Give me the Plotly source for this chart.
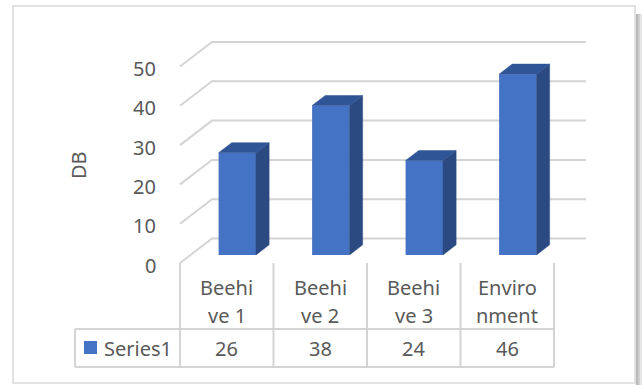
import plotly.graph_objects as go

# ==================================================
# 1. data
# ==================================================

categories = ["Beehive 1", "Beehive 2", "Beehive 3", "Environment"]
table_labels = [["Beehi", "ve 1"], ["Beehi", "ve 2"], ["Beehi", "ve 3"], ["Enviro", "nment"]]
values = [26, 38, 24, 46]
series_name = "Series1"
y_ticks = [0, 10, 20, 30, 40, 50]
y_title = "DB"

# ==================================================
# 2. geometry (pixel scale of the fake 3D box)
# ==================================================

W, H = 642, 385
X0_PX, PX_PER_CAT = 180, 93.5      # front-left floor corner, width of one category
Y0_PX, PX_PER_UNIT = 263, 3.93     # front floor level, pixels per DB unit

DX = 32 / PX_PER_CAT               # full depth in category units
DY = 24.5 / PX_PER_UNIT            # full depth in value units
D0, D1 = 0.33, 0.74                # bar depth (front / back fraction)
BAR_W = 0.4

FRONT = "#4472C4"
TOP = "#2F5597"
SIDE = "#2B4A82"
GRID = "#d4d4d4"
TXT = "#595959"
FONT = "Noto Sans"
FS = 20


def px_x(p):
    return (p - X0_PX) / PX_PER_CAT


def px_y(p):
    return (Y0_PX - p) / PX_PER_UNIT


n = len(categories)
fig = go.Figure()

# bar fronts
centers = [i + 0.5 + D0 * DX for i in range(n)]
fig.add_trace(go.Bar(x=centers, y=values, base=D0 * DY, width=BAR_W,
                     marker=dict(color=FRONT, line=dict(width=0)),
                     name=series_name))

# side and top faces
dd = (D1 - D0)
for c, v in zip(centers, values):
    l, r = c - BAR_W / 2, c + BAR_W / 2
    b, t = D0 * DY, v + D0 * DY
    fig.add_trace(go.Scatter(
        x=[r, r + dd * DX, r + dd * DX, r, r],
        y=[b, b + dd * DY, t + dd * DY, t, b],
        fill="toself", fillcolor=SIDE, mode="lines",
        line=dict(color=SIDE, width=0.5), hoverinfo="skip"))
    fig.add_trace(go.Scatter(
        x=[l, r, r + dd * DX, l + dd * DX, l],
        y=[t, t, t + dd * DY, t + dd * DY, t],
        fill="toself", fillcolor=TOP, mode="lines",
        line=dict(color=TOP, width=0.5), hoverinfo="skip"))

# gridlines on the left wall and back wall (behind the bars)
shapes = []
for t in y_ticks:
    path = f"M 0 {t} L {DX} {t + DY} L {n + DX} {t + DY}"
    shapes.append(dict(type="path", path=path, xref="x", yref="y", layer="below",
                       line=dict(color=GRID, width=2)))

# ==================================================
# 3. texts: ticks, axis title, data table
# ==================================================

ann = []
for t in y_ticks:
    ann.append(dict(x=0, y=t, text=str(t), showarrow=False, xanchor="right",
                    xshift=-22, yshift=-2, font=dict(size=FS, color=TXT, family=FONT)))

ann.append(dict(x=px_x(78), y=px_y(165), text=y_title, showarrow=False, textangle=-90,
                font=dict(size=FS, color=TXT, family=FONT)))

row1, row2 = px_y(329), px_y(367)
table_lines = []
for i in range(n + 1):
    table_lines.append(dict(type="line", x0=i, x1=i, y0=0, y1=row2))
table_lines.append(dict(type="line", x0=px_x(75), x1=n, y0=row1, y1=row1))
table_lines.append(dict(type="line", x0=px_x(75), x1=n, y0=row2, y1=row2))
table_lines.append(dict(type="line", x0=px_x(75), x1=px_x(75), y0=row1, y1=row2))
for s in table_lines:
    s.update(xref="x", yref="y", layer="below", line=dict(color=GRID, width=2))
shapes += table_lines

for i, (lab, v) in enumerate(zip(table_labels, values)):
    ann.append(dict(x=i + 0.5, y=px_y(287), text=lab[0], showarrow=False,
                    font=dict(size=FS, color=TXT, family=FONT)))
    ann.append(dict(x=i + 0.5, y=px_y(315), text=lab[1], showarrow=False,
                    font=dict(size=FS, color=TXT, family=FONT)))
    ann.append(dict(x=i + 0.5, y=px_y(348), text=str(v), showarrow=False,
                    font=dict(size=FS, color=TXT, family=FONT)))

ann.append(dict(x=px_x(102), y=px_y(348), text=series_name, showarrow=False,
                xanchor="left", font=dict(size=FS, color=TXT, family=FONT)))

shapes += [
    # legend key
    dict(type="rect", xref="x", yref="y", x0=px_x(84), x1=px_x(97),
         y0=px_y(354), y1=px_y(341), fillcolor=FRONT, line=dict(width=0)),
    # chart border + shadow
    dict(type="rect", xref="paper", yref="paper", x0=636 / W, x1=638 / W,
         y0=0, y1=1 - 14 / H, fillcolor="#b8b8b8", line=dict(width=0)),
    dict(type="rect", xref="paper", yref="paper", x0=638 / W, x1=640 / W,
         y0=0, y1=1 - 14 / H, fillcolor="#cfcfcf", line=dict(width=0)),
    dict(type="rect", xref="paper", yref="paper", x0=640 / W, x1=1,
         y0=0, y1=1 - 14 / H, fillcolor="#e6e6e6", line=dict(width=0)),
    dict(type="rect", xref="paper", yref="paper", x0=13 / W, x1=635 / W,
         y0=1 - 383 / H, y1=1 - 6 / H, line=dict(color="#d9d9d9", width=1.5)),
]

# ==================================================
# 4. layout
# ==================================================

fig.update_layout(
    width=W, height=H,
    margin=dict(l=0, r=0, t=0, b=0),
    paper_bgcolor="white", plot_bgcolor="white",
    showlegend=False,
    xaxis=dict(range=[px_x(0), px_x(W)], visible=False, fixedrange=True),
    yaxis=dict(range=[px_y(H), px_y(0)], visible=False, fixedrange=True),
    annotations=ann,
    shapes=shapes,
)

fig.write_html("out.html", config={"displayModeBar": False},
               post_script="document.body.style.margin='0';")
